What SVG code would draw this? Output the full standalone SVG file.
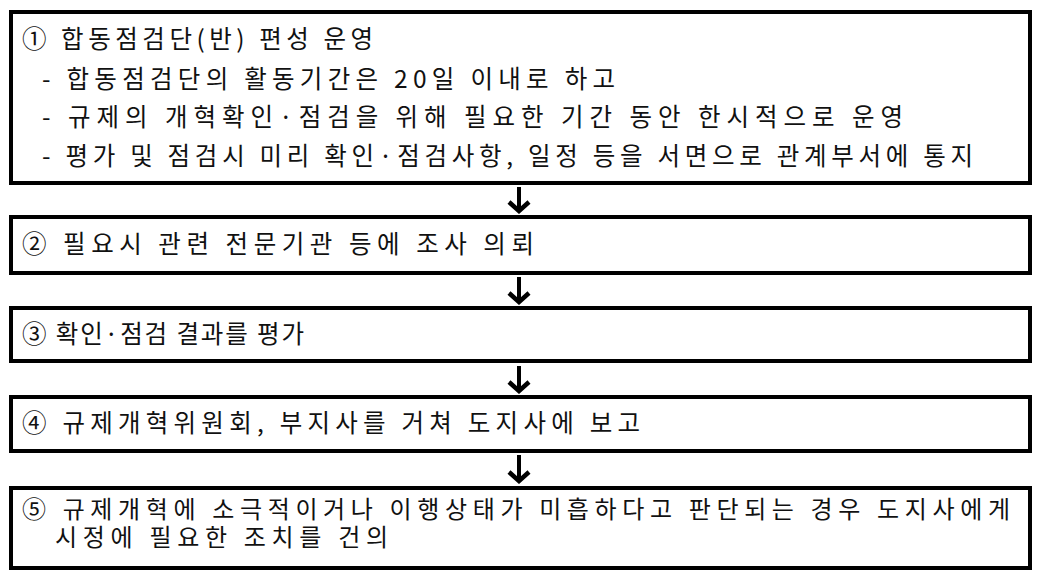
<svg xmlns="http://www.w3.org/2000/svg" width="1043" height="580" viewBox="0 0 1043 580">
<style>
.box{fill:#fff;stroke:#000;stroke-width:4}
.t{font-family:"Noto Sans CJK KR","Noto Sans",sans-serif;font-size:24.5px;fill:#111}
.t2{font-size:24px}
.c{fill:none;stroke:#000;stroke-width:4}
</style>
<defs>
<marker id="ah" markerUnits="userSpaceOnUse" viewBox="-14 -12 16 24" refX="0" refY="0" markerWidth="16" markerHeight="24" orient="auto">
<path d="M-10,-10 L-1,0 L-10,10" fill="none" stroke="#000" stroke-width="4.5"/>
</marker>
</defs>
<rect width="1043" height="580" fill="#fff"/>
<g id="node1">
<rect class="box" x="11" y="12" width="1019" height="171"/>
<text class="t" x="22" y="48" textLength="351" lengthAdjust="spacing">① 합동점검단(반) 편성 운영</text>
<text class="t" x="42" y="88" textLength="573" lengthAdjust="spacing">- 합동점검단의 활동기간은 20일 이내로 하고</text>
<text class="t" x="42" y="126" textLength="861" lengthAdjust="spacing">- 규제의 개혁확인·점검을 위해 필요한 기간 동안 한시적으로 운영</text>
<text class="t" x="42" y="165" textLength="931" lengthAdjust="spacing">- 평가 및 점검시 미리 확인·점검사항, 일정 등을 서면으로 관계부서에 통지</text>
</g>
<g id="node2">
<rect class="box" x="11" y="217" width="1019" height="56"/>
<text class="t" x="22" y="253" textLength="512" lengthAdjust="spacing">② 필요시 관련 전문기관 등에 조사 의뢰</text>
</g>
<g id="node3">
<rect class="box" x="11" y="308" width="1019" height="53"/>
<text class="t" x="22" y="343" textLength="282" lengthAdjust="spacing">③ 확인·점검 결과를 평가</text>
</g>
<g id="node4">
<rect class="box" x="11" y="397" width="1019" height="54"/>
<text class="t" x="22" y="432" textLength="618" lengthAdjust="spacing">④ 규제개혁위원회, 부지사를 거쳐 도지사에 보고</text>
</g>
<g id="node5">
<rect class="box" x="11" y="488" width="1019" height="80"/>
<text class="t t2" x="22" y="518" textLength="988" lengthAdjust="spacing">⑤ 규제개혁에 소극적이거나 이행상태가 미흡하다고 판단되는 경우 도지사에게</text>
<text class="t t2" x="55" y="546" textLength="333" lengthAdjust="spacing">시정에 필요한 조치를 건의</text>
</g>
<g id="connectors">
<line class="c" x1="519" y1="187" x2="519" y2="212" marker-end="url(#ah)"/>
<line class="c" x1="519" y1="277" x2="519" y2="303" marker-end="url(#ah)"/>
<line class="c" x1="519" y1="366" x2="519" y2="392" marker-end="url(#ah)"/>
<line class="c" x1="519" y1="455" x2="519" y2="482" marker-end="url(#ah)"/>
</g>
</svg>
